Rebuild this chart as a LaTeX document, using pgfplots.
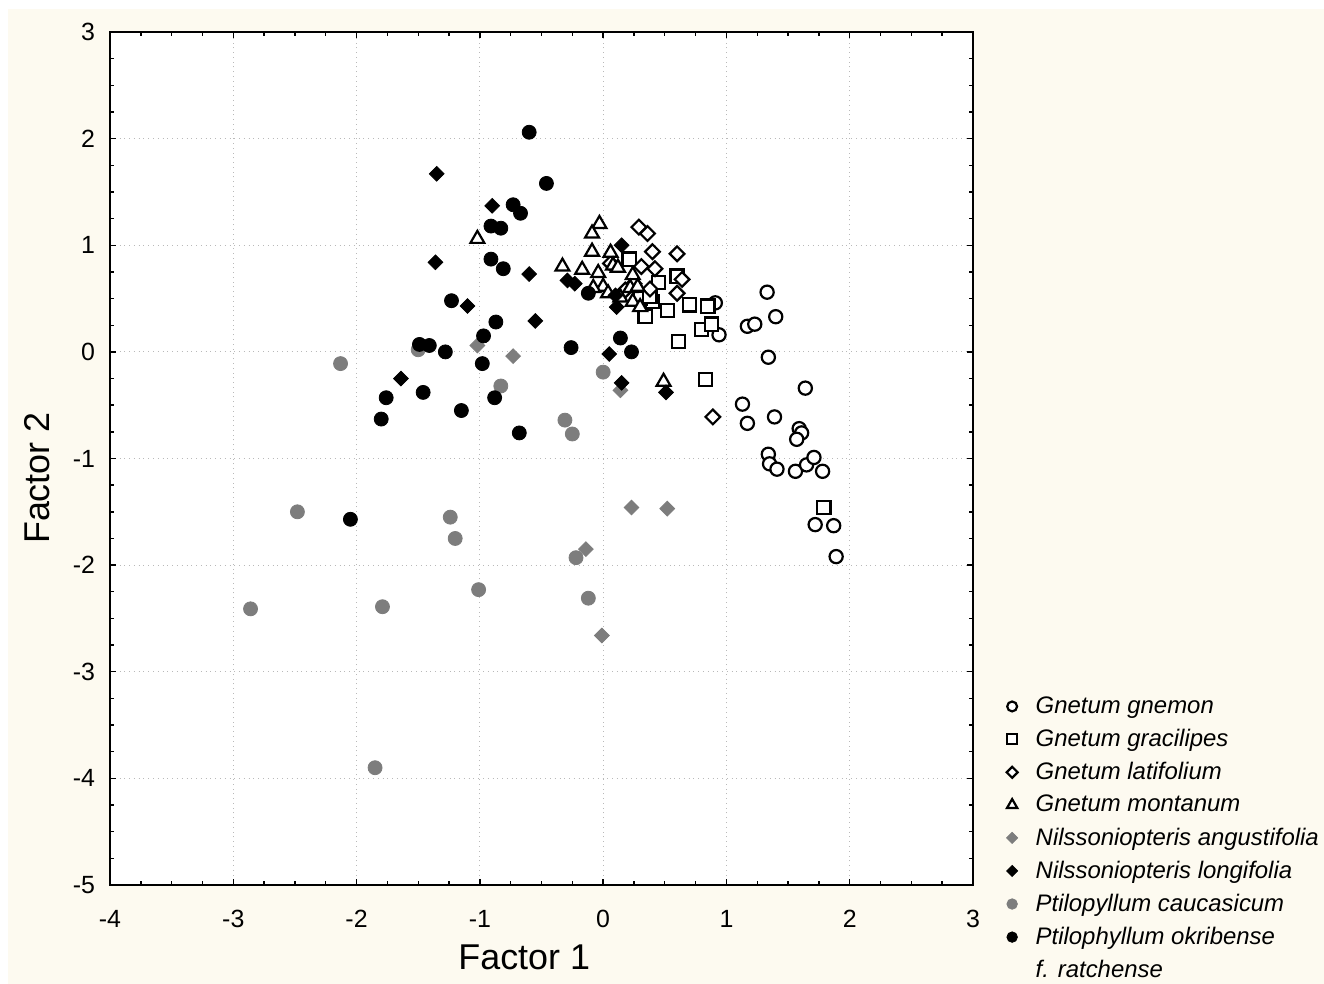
\documentclass[border=0pt]{standalone}
\usepackage{fontspec}
\setmainfont{Liberation Sans}
\usepackage{pgfplots}
\pgfplotsset{compat=1.18}
\definecolor{cream}{RGB}{253,250,240}
\definecolor{midgray}{RGB}{125,125,125}

\pgfplotsset{
  open/.style={only marks, mark options={draw=black, fill=white, line width=1.1bp}},
  legendmark/.style={legend image code/.code={%
    \path[draw=none, fill=none] (0bp,-3bp) rectangle (15.8bp,3bp);
    \draw[mark repeat=2, mark phase=2, every mark/.append style={scale=0.75}]
      plot coordinates {(0bp,0bp) (6bp,0bp) (12bp,0bp)};}},
}

\begin{document}
\begin{tikzpicture}
% background: white margin on top/left, cream elsewhere
\fill[white] (-55bp,-49.5bp) rectangle (607bp,442.5bp);
\fill[cream] (-51bp,-49.5bp) rectangle (607bp,438bp);
\useasboundingbox (-55bp,-49.5bp) rectangle (607bp,442.5bp);

\begin{axis}[
    at={(0,0)}, anchor=south west,
    scale only axis,
    width=431.5bp, height=426.5bp,
    xmin=-4, xmax=3, ymin=-5, ymax=3,
    xtick={-4,...,3}, ytick={-5,...,3},
    xticklabels={-4,-3,-2,-1,0,1,2,3},
    yticklabels={-5,-4,-3,-2,-1,0,1,2,3},
    minor x tick num=3, minor y tick num=3,
    tick align=inside,
    major tick length=3bp, minor tick length=1.8bp,
    every tick/.style={black, line width=0.7bp},
    axis line style={line width=1bp},
    axis background/.style={fill=white},
    grid=major,
    grid style={dotted, gray!55, line width=0.5bp},
    tick label style={font=\fontsize{12.5}{14}\selectfont},
    xticklabel style={yshift=-9bp},
    yticklabel style={xshift=-4bp},
    xlabel={Factor 1}, ylabel={Factor 2},
    label style={font=\fontsize{18}{20}\selectfont},
    xlabel style={at={(rel axis cs:0.48,0)}, anchor=center, yshift=-36bp},
    ylabel style={at={(rel axis cs:0,0.477)}, anchor=center, yshift=36.5bp},
    legend style={at={(rel axis cs:1.031,0.226)}, anchor=north west,
        draw=none, fill=none, font=\itshape\fontsize{12}{13.5}\selectfont,
        row sep=2.4bp, inner sep=0pt,
        legend cell align=left},
    legendmark,
]
% Gnetum gnemon
\addplot[open, mark=*, mark size=3.3bp] coordinates {
  (1.33,0.56) (0.91,0.46) (1.40,0.33) (1.17,0.24) (1.23,0.26) (0.94,0.16)
  (1.34,-0.05) (1.64,-0.34) (1.13,-0.49) (1.17,-0.67) (1.39,-0.61)
  (1.59,-0.72) (1.61,-0.76) (1.57,-0.82) (1.34,-0.96) (1.35,-1.05)
  (1.41,-1.10) (1.56,-1.12) (1.65,-1.06) (1.71,-0.99) (1.78,-1.12)
  (1.72,-1.62) (1.87,-1.63) (1.89,-1.92)
};
% Gnetum gracilipes
\addplot[open, mark=square*, mark size=3.3bp] coordinates {
  (0.21,0.87) (0.45,0.65) (0.40,0.47) (0.60,0.71) (0.34,0.33) (0.52,0.39)
  (0.70,0.44) (0.85,0.43) (0.80,0.21) (0.88,0.26) (0.61,0.10) (0.83,-0.26)
  (1.79,-1.46) (0.30,0.50) (0.38,0.52)
};
% Gnetum latifolium
\addplot[only marks, mark=square*, mark size=2.6bp,
  mark options={draw=black, fill=white, line width=1.1bp, rotate=45}] coordinates {
  (0.29,1.17) (0.36,1.11) (0.40,0.94) (0.60,0.92) (0.31,0.80) (0.42,0.78)
  (0.64,0.68) (0.60,0.55) (0.38,0.59) (0.06,0.83) (0.89,-0.61) (0.18,0.58)
  (0.25,0.64)
};
% Gnetum montanum
\addplot[open, mark=triangle*, mark size=4bp] coordinates {
  (-0.03,1.20) (-0.09,1.11) (-0.09,0.94) (0.06,0.93) (-0.33,0.80) (-0.17,0.77)
  (-0.04,0.74) (0.08,0.81) (0.12,0.79) (0.24,0.72) (0.00,0.61) (-0.08,0.60)
  (0.22,0.60) (0.28,0.61) (0.14,0.51) (0.24,0.47) (0.30,0.42) (0.04,0.55)
  (-1.02,1.06) (0.49,-0.28)
};
% Nilssoniopteris angustifolia
\addplot[only marks, mark=square*, mark size=2.6bp, mark options={rotate=45, draw=midgray, fill=midgray}] coordinates {
  (-1.02,0.06) (-0.73,-0.04) (0.14,-0.36) (0.23,-1.46) (0.52,-1.47)
  (-0.14,-1.85) (-0.01,-2.66)
};
% Nilssoniopteris longifolia
\addplot[only marks, mark=square*, mark size=2.6bp, mark options={rotate=45, draw=black, fill=black}] coordinates {
  (-1.35,1.67) (-0.90,1.37) (-1.36,0.84) (-0.60,0.73) (-1.10,0.43) (-0.55,0.29)
  (-0.29,0.67) (-0.23,0.64) (-1.64,-0.25) (0.05,-0.02) (0.15,-0.29)
  (0.51,-0.38) (0.15,1.00) (0.11,0.42) (0.10,0.53)
};
% Ptilopyllum caucasicum
\addplot[only marks, mark=*, mark size=3.5bp, mark options={draw=midgray, fill=midgray}] coordinates {
  (-2.13,-0.11) (-1.50,0.02) (-0.83,-0.32) (0.00,-0.19) (-0.31,-0.64)
  (-0.25,-0.77) (-2.48,-1.50) (-1.24,-1.55) (-1.20,-1.75) (-2.86,-2.41)
  (-1.79,-2.39) (-1.01,-2.23) (-0.22,-1.93) (-0.12,-2.31) (-1.85,-3.90)
};
% Ptilophyllum okribense f. ratchense
\addplot[only marks, mark=*, mark size=3.5bp, mark options={draw=black, fill=black}] coordinates {
  (-0.60,2.06) (-0.46,1.58) (-0.73,1.38) (-0.67,1.30) (-0.91,1.18) (-0.83,1.16)
  (-0.91,0.87) (-0.81,0.78) (-1.23,0.48) (-0.87,0.28) (-0.97,0.15) (-1.49,0.07)
  (-1.41,0.06) (-1.28,0.00) (-0.26,0.04) (-0.98,-0.11) (-1.76,-0.43)
  (-1.80,-0.63) (-1.46,-0.38) (-1.15,-0.55) (-0.88,-0.43) (-0.68,-0.76)
  (0.14,0.13) (0.23,0.00) (-2.05,-1.57) (-0.12,0.55)
};
\legend{Gnetum gnemon, Gnetum gracilipes, Gnetum latifolium, Gnetum montanum,
  Nilssoniopteris angustifolia, Nilssoniopteris longifolia,
  Ptilopyllum caucasicum, Ptilophyllum okribense}
\addlegendimage{empty legend}
\addlegendentry{f. ratchense}
\end{axis}
\end{tikzpicture}
\end{document}
